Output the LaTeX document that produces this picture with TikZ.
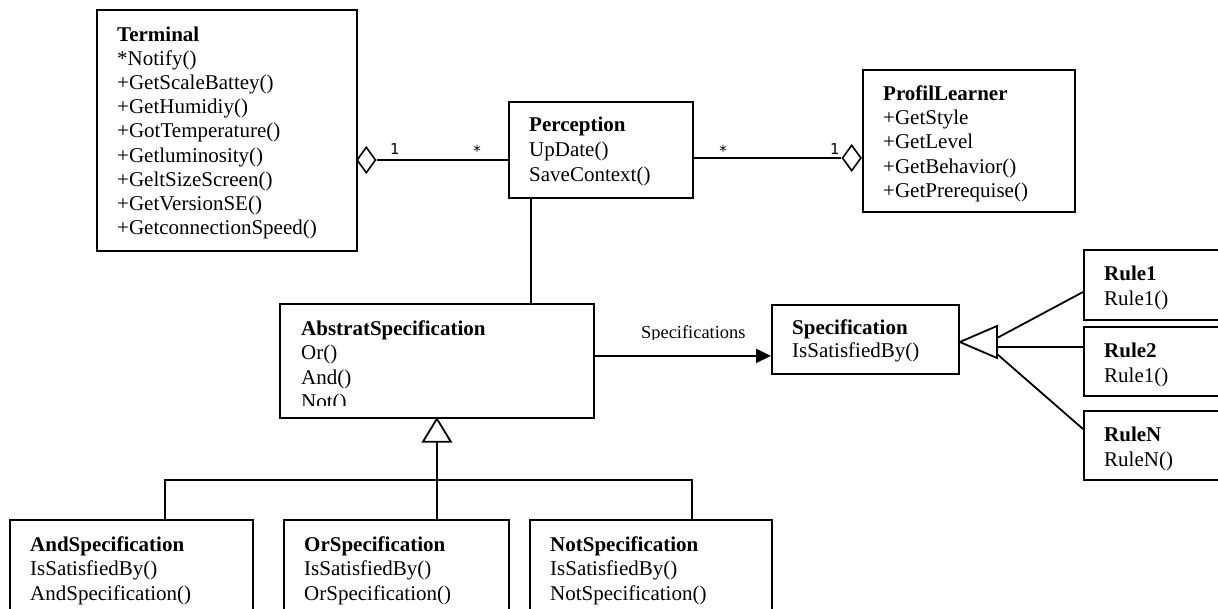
\documentclass[tikz,border=0pt]{standalone}
\usepackage{fontspec}
\setmainfont{Liberation Serif}
\newfontfamily\numfont{DejaVu Sans}
\usetikzlibrary{shapes.geometric,arrows.meta,calc}
\begin{document}
\begin{tikzpicture}[x=1pt,y=-1pt,
  box/.style={draw,line width=1.8pt,inner sep=0,anchor=north west},
  txt/.style={inner sep=0,anchor=base west,font=\fontsize{21}{24}\selectfont},
  ttl/.style={inner sep=0,anchor=base west,font=\fontsize{21}{24}\selectfont\bfseries},
  conn/.style={line width=1.8pt},
  mult/.style={inner sep=0,anchor=base,font=\numfont\fontsize{15}{17}\selectfont},
  agg/.style={draw,line width=1.6pt,fill=white,diamond,minimum width=19pt,minimum height=26pt,inner sep=0}
]
\useasboundingbox (0,0) rectangle (1218,608);
\clip (0,0) rectangle (1218,608);

% Terminal
\node[box,minimum width=260pt,minimum height=241pt] (term) at (96,9) {};
\node[ttl] (term-t) at (117,41) {Terminal};
\foreach \s [count=\i] in {*Notify(),+GetScaleBattey(),+GetHumidiy(),+GotTemperature(),+Getluminosity(),+GeltSizeScreen(),+GetVersionSE(),+GetconnectionSpeed()}
  \node[txt] (term-\i) at (117,{41+\i*24.2}) {\s};

% Perception
\node[box,minimum width=184pt,minimum height=96pt] (perc) at (508,101) {};
\node[ttl] (perc-t) at (529,131) {Perception};
\node[txt] (perc-1) at (529,156) {UpDate()};
\node[txt] (perc-2) at (529,181) {SaveContext()};

% ProfilLearner
\node[box,minimum width=212pt,minimum height=142pt] (prof) at (862,69) {};
\node[ttl] (prof-t) at (883,100) {ProfilLearner};
\foreach \s [count=\i] in {+GetStyle,+GetLevel,+GetBehavior(),+GetPrerequise()}
  \node[txt] (prof-\i) at (883,{100+\i*24.4}) {\s};

% aggregations
\node[agg,anchor=west] (tdia) at (356,160) {};
\draw[conn] (tdia.east) -- (tdia.east -| perc.west);
\node[mult] (m1) at (395,154) {1};
\node[mult] (m2) at (477,156) {*};

\node[agg,anchor=east] (pdia) at (862,158) {};
\draw[conn] (pdia.west -| perc.east) -- (pdia.west);
\node[mult] (m3) at (723,156) {*};
\node[mult] (m4) at (835,154) {1};

% AbstratSpecification
\node[box,minimum width=314pt,minimum height=114pt] (abs) at (279,303) {};
\node[ttl] (abs-t) at (301,335) {AbstratSpecification};
\node[txt] (abs-1) at (301,359.5) {Or()};
\node[txt] (abs-2) at (301,384) {And()};
\begin{scope}
  \clip (279,303) rectangle (592,405);
  \node[txt] (abs-3) at (301,408.5) {Not()};
\end{scope}

\draw[conn] ([xshift=23pt]perc.south west) -- ([xshift=23pt]perc.south west |- abs.north);

% Specification
\node[box,minimum width=187pt,minimum height=69pt] (spec) at (771,304) {};
\node[ttl] (spec-t) at (792,334) {Specification};
\node[txt] (spec-1) at (792,357) {IsSatisfiedBy()};

\draw[conn,-{Triangle[length=15pt,width=14pt]}] ([yshift=5pt]abs.east) -- ([yshift=5pt]abs.east -| spec.west);
\begin{scope}
  \clip (600,300) rectangle (760,339.5);
  \node[inner sep=0,anchor=base west,font=\fontsize{18.4}{20}\selectfont] (speclbl) at (641,338) {Specifications};
\end{scope}

% Rules
\node[box,minimum width=150pt,minimum height=70pt] (rule1) at (1083,249) {};
\node[ttl] (rule1-t) at (1104,280) {Rule1};
\node[txt] (rule1-1) at (1104,305) {Rule1()};
\node[box,minimum width=150pt,minimum height=69pt] (rule2) at (1083,326) {};
\node[ttl] (rule2-t) at (1104,357) {Rule2};
\node[txt] (rule2-1) at (1104,382) {Rule1()};
\node[box,minimum width=150pt,minimum height=69pt] (ruleN) at (1083,410) {};
\node[ttl] (ruleN-t) at (1104,441) {RuleN};
\node[txt] (ruleN-1) at (1104,466) {RuleN()};

% generalization triangle at Specification
\coordinate (stip) at (spec.east |- 0,342);
\coordinate (sb1) at (997,338);
\coordinate (sb2) at (997,347);
\coordinate (sb3) at (997,354);
\draw[conn] (sb1) -- (rule1.west |- 0,292);
\draw[conn] (sb2) -- (rule2.west |- 0,347);
\draw[conn] (sb3) -- (ruleN.west |- 0,429);
\draw[conn,fill=white,line join=miter] (stip) -- (997,326) -- (997,358) -- cycle;

% bottom classes
\node[box,minimum width=243pt,minimum height=110pt] (andb) at (9,519) {};
\node[ttl] (andb-t) at (30,551) {AndSpecification};
\node[txt] (andb-1) at (30,575.5) {IsSatisfiedBy()};
\node[txt] (andb-2) at (30,600) {AndSpecification()};
\node[box,minimum width=225pt,minimum height=110pt] (orb) at (283,519) {};
\node[ttl] (orb-t) at (304,551) {OrSpecification};
\node[txt] (orb-1) at (304,575.5) {IsSatisfiedBy()};
\node[txt] (orb-2) at (304,600) {OrSpecification()};
\node[box,minimum width=242pt,minimum height=110pt] (notb) at (529,519) {};
\node[ttl] (notb-t) at (550,551) {NotSpecification};
\node[txt] (notb-1) at (550,575.5) {IsSatisfiedBy()};
\node[txt] (notb-2) at (550,600) {NotSpecification()};

% generalization to AbstratSpecification
\coordinate (tb) at ([yshift=-23pt]abs.south);
\coordinate (jn) at (tb |- 0,480);
\draw[conn] (tb) -- (jn);
\draw[conn] ([xshift=156pt]andb.north west) |- (jn) -| ([xshift=163pt]notb.north west);
\draw[conn] (jn) -- (jn |- orb.north);
\draw[conn,fill=white,line join=miter] (abs.south) -- ([xshift=14pt]tb) -- ([xshift=-14pt]tb) -- cycle;
\end{tikzpicture}
\end{document}
